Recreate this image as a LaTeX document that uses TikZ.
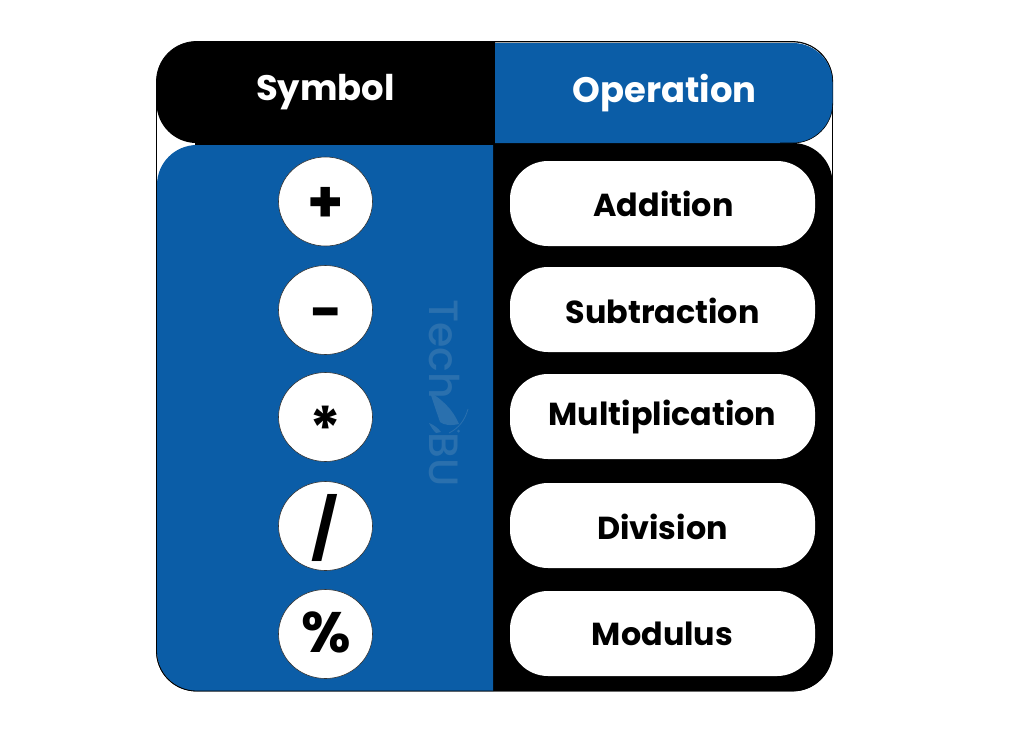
\documentclass[tikz,border=0pt]{standalone}
\usepackage{fontspec}
\setmainfont{Poppins}[BoldFont={Poppins Bold}]
\newfontfamily\wmfont{Poppins Medium}
\definecolor{tblue}{HTML}{0B5DA7}
\definecolor{wm}{HTML}{2A70AE}
\usetikzlibrary{shapes.geometric}
\tikzset{
  symcirc/.style={ellipse,draw=black!80,line width=0.6pt,fill=white,minimum width=94pt,minimum height=89pt,inner sep=0pt},
  pill/.style={rounded corners=38pt,draw=none,fill=white,minimum width=305pt,minimum height=85pt,inner sep=0pt},
  oplabel/.style={font=\fontsize{31.8}{34}\selectfont\bfseries,text=black},
  headlabel/.style={font=\fontsize{35.4}{38}\selectfont\bfseries,text=white},
  wmlabel/.style={font=\fontsize{41}{42}\wmfont\selectfont,text=wm,rotate=-90}
}
\begin{document}
\begin{tikzpicture}[x=1pt,y=-1pt]
\useasboundingbox (0,0) rectangle (1024,731);
\fill[white] (0,0) rectangle (1024,731);
% outer outline
\draw[black,line width=0.8pt,fill=white,rounded corners=40pt] (156.5,41.5) rectangle (832.5,691);
% body
\fill[black] (493,143) [rounded corners=40pt] -- (832.5,143) -- (832.5,691.3) [sharp corners] -- (493,691.3) -- cycle;
\fill[black] (195,143) rectangle (495,145.5);
\fill[tblue] (493,691) [rounded corners=40pt] -- (157,691) -- (157,145) [sharp corners] -- (493,145) -- cycle;
\draw[black,line width=0.8pt,rounded corners=40pt] (493,691) -- (156.5,691) -- (156.5,146);
% header
\fill[black] (495,41.5) [rounded corners=40pt] -- (156.5,41.5) -- (156.5,143) [sharp corners] -- (495,143) -- cycle;
\fill[tblue] (495,43) [rounded corners=40pt] -- (832.8,43) -- (832.8,143) [sharp corners] -- (495,143) -- cycle;
\draw[black,line width=0.6pt,rounded corners=40pt] (495,42) -- (832.8,42) -- (832.8,143) -- (780,143);
\node[headlabel] (hsym) at (325.5,92) {Symbol};
\node[headlabel] (hop) at (664.5,93.5) {Operation};
% watermark
\node[wmlabel,anchor=west] (wmtech) at (444,296) {Tech};
\node[wmlabel,anchor=west] (wmbu) at (444,429) {BU};
\fill[wm] (430,392) .. controls (442,400) and (452,408) .. (459,424) .. controls (450,426) and (444,425) .. (440,422) .. controls (438,416) and (434,405) .. (430,392) -- cycle;
\fill[wm] (429,423) .. controls (434,425) and (438,428) .. (441,432) -- (436,433) .. controls (433,430) and (431,427) .. (429,423) -- cycle;
\draw[wm,line width=0.8pt] (468,409) .. controls (465,420) and (459,428) .. (449,433);
\fill[wm] (458.5,431) circle (1.5pt);
% symbols
\node[symcirc] (syma) at (325.5,201.5) {};
\node[symcirc] (symb) at (325.5,310) {};
\node[symcirc] (symc) at (325.5,417) {};
\node[symcirc] (symd) at (325.5,526) {};
\node[symcirc] (syme) at (325.5,634) {};
\node[font=\fontsize{58}{58}\selectfont\bfseries] (ta) at (325.5,205) {+};
\node[font=\fontsize{56}{56}\selectfont\bfseries] (tb) at (325.5,319.5) {−};
\node[font=\fontsize{60}{60}\selectfont\bfseries] (tc) at (325.5,428) {*};
\node[font=\fontsize{59}{59}\selectfont\bfseries] (td) at (324.5,528) {/};
\node[font=\fontsize{57}{57}\selectfont\bfseries] (te) at (326,632) {\%};
% operations
\node[pill] (pa) at (662.5,203.5) {};
\node[pill] (pb) at (662.5,309.5) {};
\node[pill] (pc) at (662.5,416.5) {};
\node[pill] (pd) at (662.5,525.5) {};
\node[pill] (pe) at (662.5,633.5) {};
\node[oplabel] (la) at (663.5,203.5) {Addition};
\node[oplabel] (lb) at (662.5,310.5) {Subtraction};
\node[oplabel] (lc) at (662.5,417) {Multiplication};
\node[oplabel] (ld) at (662.5,526.5) {Division};
\node[oplabel] (le) at (662.5,633.5) {Modulus};
\end{tikzpicture}
\end{document}
